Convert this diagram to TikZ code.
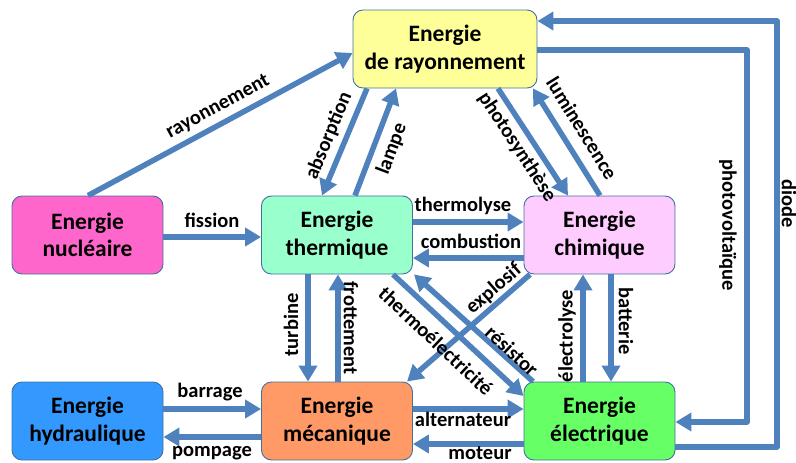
\documentclass[tikz,border=0pt]{standalone}
\usepackage{fontspec}
\setmainfont{Carlito}
\usetikzlibrary{arrows.meta}
\definecolor{arrowc}{HTML}{4F81BD}
\definecolor{borderc}{HTML}{41719C}
\definecolor{rayc}{HTML}{FFFF99}
\definecolor{nucc}{HTML}{FF66CC}
\definecolor{thermc}{HTML}{99FFCC}
\definecolor{chimc}{HTML}{FFCCFF}
\definecolor{hydc}{HTML}{3399FF}
\definecolor{mecac}{HTML}{FF9966}
\definecolor{elecc}{HTML}{66FF66}
\tikzset{
  ebox/.style={draw=borderc, line width=0.9pt, rounded corners=10pt, align=center,
    minimum width=151pt, minimum height=78pt, inner sep=0pt,
    font=\bfseries\fontsize{23.5}{27.5}\selectfont},
  arr/.style={draw=arrowc, line width=5.5pt, -{Triangle[length=16pt,width=18pt]}},
  lbl/.style={inner sep=0pt, font=\bfseries\fontsize{20.5}{22}\selectfont}
}
\begin{document}
\begin{tikzpicture}[x=1pt,y=-1pt]
\useasboundingbox (0,0) rectangle (796,463);
% boxes
\node[ebox, fill=rayc, minimum width=184pt] (ray) at (445,49) {Energie\\de rayonnement};
\node[ebox, fill=nucc] (nuc) at (87.5,235) {Energie\\nucléaire};
\node[ebox, fill=thermc] (therm) at (337,235) {Energie\\thermique};
\node[ebox, fill=chimc] (chim) at (599.5,235) {Energie\\chimique};
\node[ebox, fill=hydc] (hyd) at (87.5,421) {Energie\\hydraulique};
\node[ebox, fill=mecac] (meca) at (337,421) {Energie\\mécanique};
\node[ebox, fill=elecc] (elec) at (599.5,421) {Energie\\électrique};
% corner coordinates
\coordinate (pv1) at (747,50);
\coordinate (pv2) at (747,422);
\coordinate (di1) at (777,447);
\coordinate (di2) at (777,21);
% connectors
\draw[arr] (nuc.north -| 88,0) -- (ray.west |- 0,53);
\draw[arr] (nuc.east |- 0,237) -- (therm.west |- 0,237);
\draw[arr] (ray.south -| 367,0) -- (therm.north -| 322,0);
\draw[arr] (therm.north -| 355,0) -- (ray.south -| 396,0);
\draw[arr] (ray.south -| 498,0) -- (chim.north -| 568,0);
\draw[arr] (chim.north -| 600,0) -- (ray.south -| 533,0);
\draw[arr, line join=round] (ray.east |- 0,50) -- (pv1) -- (pv2) -- (elec.east |- 0,422);
\draw[arr, line join=round] (elec.east |- 0,447) -- (di1) -- (di2) -- (ray.east |- 0,21);
\draw[arr] (therm.east |- 0,222) -- (chim.west |- 0,222);
\draw[arr] (chim.west |- 0,258) -- (therm.east |- 0,258);
\draw[arr] (therm.south -| 308,0) -- (meca.north -| 308,0);
\draw[arr] (meca.north -| 338,0) -- (therm.south -| 338,0);
\draw[arr] (therm.south -| 393,0) -- (elec.west |- 0,396);
\draw[arr] (elec.north -| 533,0) -- (therm.south -| 414,0);
\draw[arr] (chim.south -| 530,0) -- (meca.north -| 407,0);
\draw[arr] (elec.north -| 583,0) -- (chim.south -| 583,0);
\draw[arr] (chim.south -| 611,0) -- (elec.north -| 611,0);
\draw[arr] (hyd.east |- 0,409) -- (meca.west |- 0,409);
\draw[arr] (meca.west |- 0,437) -- (hyd.east |- 0,437);
\draw[arr] (meca.east |- 0,409) -- (elec.west |- 0,409);
\draw[arr] (elec.west |- 0,444) -- (meca.east |- 0,444);
% labels
\node[lbl, rotate=28.5] (l1) at (218,107) {rayonnement};
\node[lbl] (l2) at (212,220) {fission};
\node[lbl, rotate=67.4] (l3) at (329,136) {absorption};
\node[lbl, rotate=69.2] (l4) at (392,149) {lampe};
\node[lbl, rotate=-57] (l5) at (517,147) {photosynthèse};
\node[lbl, rotate=-58.2] (l6) at (582,128) {luminescence};
\node[lbl, rotate=-90] (l7) at (728,225) {photovoltaïque};
\node[lbl, rotate=-90] (l8) at (789,204) {diode};
\node[lbl] (l9) at (463,206) {thermolyse};
\node[lbl] (l10) at (471,241) {combustion};
\node[lbl, rotate=90] (l11) at (291,325) {turbine};
\node[lbl, rotate=-90] (l12) at (351,328) {frottement};
\node[lbl, rotate=-43.2] (l13) at (436,341) {thermoélectricité};
\node[lbl, rotate=-43] (l14) at (512,351) {résistor};
\node[lbl, rotate=41] (l15) at (494,289) {explosif};
\node[lbl, rotate=90] (l16) at (567,336) {électrolyse};
\node[lbl, rotate=-90] (l17) at (626,321) {batterie};
\node[lbl] (l18) at (210,392) {barrage};
\node[lbl] (l19) at (212,453) {pompage};
\node[lbl] (l20) at (463,419) {alternateur};
\node[lbl] (l21) at (480,453) {moteur};
\end{tikzpicture}
\end{document}
